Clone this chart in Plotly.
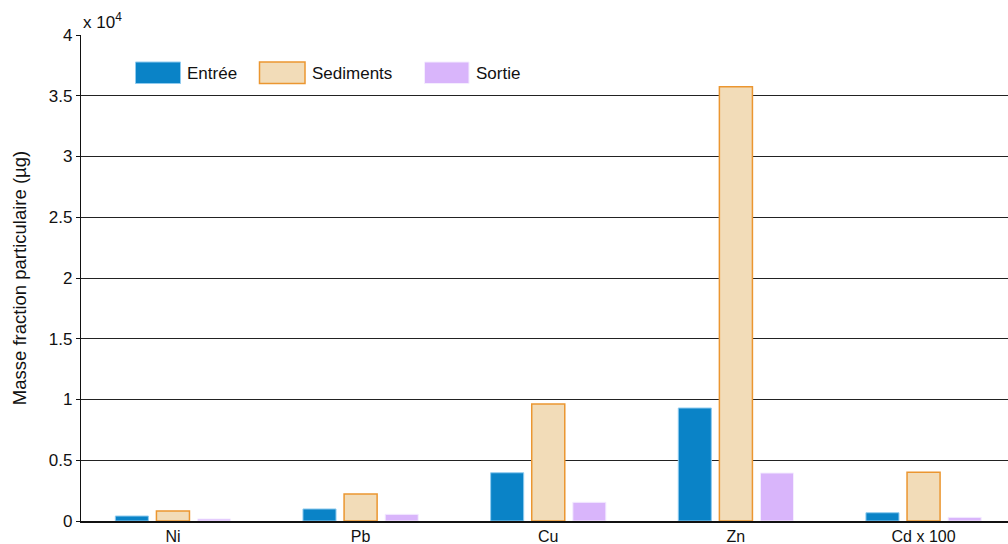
import plotly.graph_objects as go

# Particulate mass per metal (µg); Cd scaled by 100
metals = ["Ni", "Pb", "Cu", "Zn", "Cd x 100"]
entree = [410, 990, 3970, 9300, 680]
sediments = [820, 2220, 9630, 35740, 4010]
sortie = [170, 550, 1540, 3950, 300]

y_ticks = [0, 5000, 10000, 15000, 20000, 25000, 30000, 35000, 40000]
y_tick_labels = ["0", "0.5", "1", "1.5", "2", "2.5", "3", "3.5", "4"]

FONT = "Liberation Sans, Arial, sans-serif"

series = [
    ("Entrée", entree, "#0A83C7", "#8FCBEF", 1),
    ("Sediments", sediments, "#F2DCB8", "#EB9630", 1.5),
    ("Sortie", sortie, "#D9B5FB", "#F4ECFF", 1),
]

fig = go.Figure()
for name, vals, fill, edge, lw in series:
    fig.add_trace(go.Bar(
        x=metals, y=vals, name=name,
        marker=dict(color=fill, line=dict(color=edge, width=lw)),
        showlegend=False,
    ))

# Legend drawn as wide swatches with labels
W, H = 1008, 544
L, T, B = 81, 35, 23
pw, ph = W - L, H - T - B

def px(x):
    return (x - L) / pw

def py(y):
    return 1 - (y - T) / ph

legend_items = [
    ("Entrée", 135.5, 180.5, "#0A83C7", "#8FCBEF", 1),
    ("Sediments", 259.5, 305, "#F2DCB8", "#EB9630", 1.5),
    ("Sortie", 424.5, 469, "#D9B5FB", "#F4ECFF", 1),
]
shapes = []
annotations = []
for label, x0, x1, fill, edge, lw in legend_items:
    shapes.append(dict(type="rect", xref="paper", yref="paper",
                       x0=px(x0), x1=px(x1), y0=py(83.5), y1=py(62),
                       fillcolor=fill, line=dict(color=edge, width=lw)))
    annotations.append(dict(xref="paper", yref="paper", x=px(x1 + 4.5), y=py(73.5),
                            xanchor="left", yanchor="middle", showarrow=False,
                            text=label, font=dict(family=FONT, size=17, color="#111")))

annotations.append(dict(xref="paper", yref="paper", x=0, y=1, xanchor="left",
                        yanchor="bottom", showarrow=False, yshift=1,
                        text="x 10<sup>4</sup>",
                        font=dict(family=FONT, size=17, color="#111")))

fig.update_layout(
    width=W, height=H,
    margin=dict(l=L, r=0, t=T, b=B),
    paper_bgcolor="white", plot_bgcolor="white",
    barmode="group", bargap=0.343, bargroupgap=0.196,
    font=dict(family=FONT, size=17, color="#111"),
    shapes=shapes, annotations=annotations,
    xaxis=dict(range=[-0.49, 4.45], showgrid=False, showline=True,
               linecolor="#111", linewidth=1.5, ticks="", automargin=False,
               tickfont=dict(size=16)),
    yaxis=dict(range=[0, 40000], tickvals=y_ticks, ticktext=y_tick_labels,
               showgrid=True, gridcolor="#222222", gridwidth=1,
               showline=True, linecolor="#111", linewidth=1.2,
               ticks="outside", ticklen=4, tickcolor="#111", automargin=False,
               zeroline=False, tickfont=dict(size=17),
               title=dict(text="Masse fraction particulaire (µg)",
                          font=dict(size=18.5), standoff=17)),
)

fig.write_html("out.html")
